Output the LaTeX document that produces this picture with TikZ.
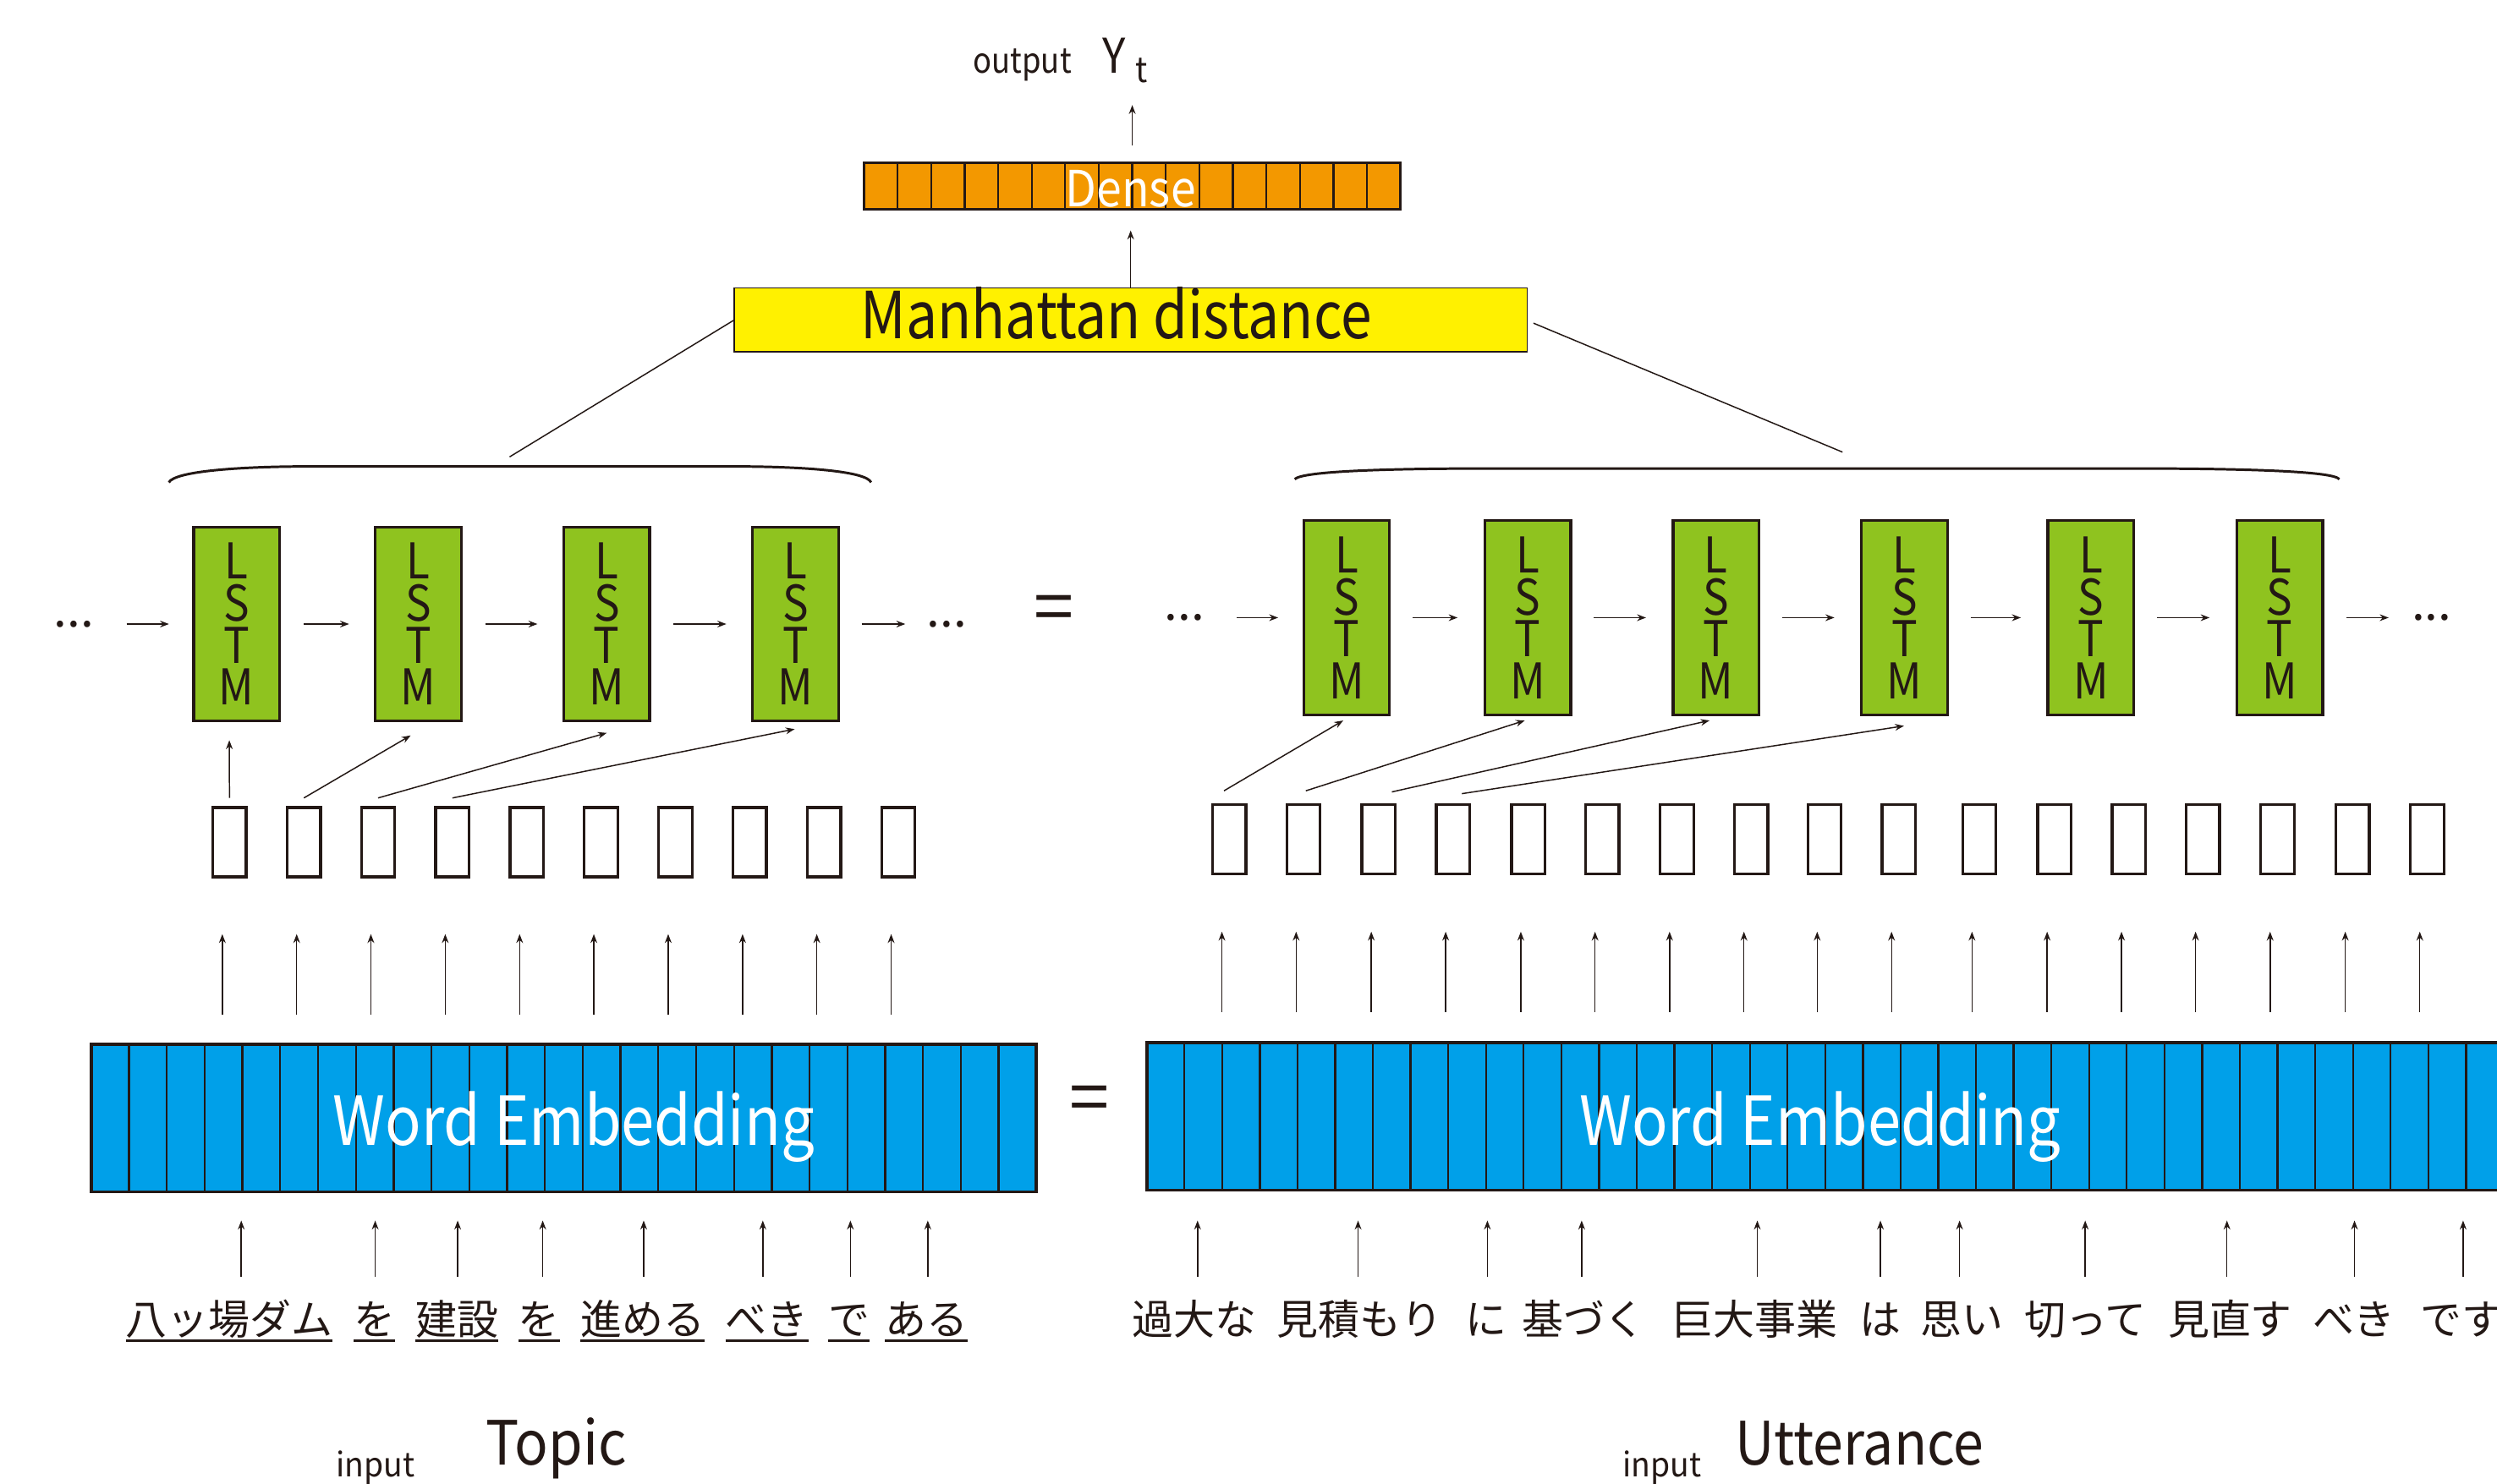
\documentclass[tikz,border=0pt]{standalone}
\usepackage{fontspec}
\setmainfont{Noto Sans CJK JP}
\newfontfamily\nrwA[FakeStretch=0.86]{Noto Sans CJK JP}
\newfontfamily\nrwB[FakeStretch=0.88]{Noto Sans CJK JP}
\newfontfamily\nrwC[FakeStretch=0.91]{Noto Sans CJK JP}
\newfontfamily\nrwD[FakeStretch=0.94]{Noto Sans CJK JP}
\usetikzlibrary{arrows.meta,calc}
\definecolor{ink}{HTML}{231815}
\definecolor{orng}{HTML}{F39800}
\definecolor{yel}{HTML}{FFF100}
\definecolor{grn}{HTML}{8FC31F}
\definecolor{cyanb}{HTML}{00A0E9}
\begin{document}
\begin{tikzpicture}[x=0.02cm,y=-0.02cm,
  every node/.style={inner sep=0pt,outer sep=0pt,text=ink},
  arr/.style={draw=ink,line width=0.45pt,-{Stealth[length=3.2pt,width=2.4pt]}},
  conn/.style={draw=ink,line width=0.45pt},
  lstm/.style={draw=ink,fill=grn,line width=1pt,minimum width=1.08cm,minimum height=2.44cm,align=center,font=\nrwB\fontsize{17.6}{15}\selectfont},
  sbox/.style={draw=ink,fill=white,line width=1pt,minimum width=0.42cm,minimum height=0.87cm},
  jw/.style={font=\fontsize{14.8}{14.8}\selectfont,anchor=base},
  dotsn/.style={font=\fontsize{17.1}{17.1}\selectfont},
  eqn/.style={font=\fontsize{25.6}{25.6}\selectfont},
  brace/.style={draw=ink,line width=0.9pt},
  cell/.style={draw=ink,line width=0.7pt}]
\useasboundingbox (0,0) rectangle (1568,932);

% ---- output
\node[anchor=base,font=\nrwB\fontsize{12.5}{12.5}\selectfont] (out) at (642,46) {output};
\node[anchor=base,font=\nrwC\fontsize{17.1}{17.1}\selectfont] (Y) at (699.5,46) {Y};
\node[anchor=base,font=\nrwC\fontsize{12.5}{12.5}\selectfont] (t) at (717,52) {t};

% ---- Dense
\node[draw=ink,fill=orng,line width=0.9pt,minimum width=6.74cm,minimum height=0.58cm] (dense) at (711,117) {};
\foreach \i in {1,...,15} \draw[cell] ($(dense.north west)+(\i*21.06,0)$) -- ($(dense.south west)+(\i*21.06,0)$);
\node[anchor=base,text=white,font=\nrwC\fontsize{17.8}{17.8}\selectfont] (densetxt) at (710,130) {Dense};
\draw[arr,shorten <=0.226cm,shorten >=0.4cm] (dense.north) -- (dense.north |- Y.south);

% ---- Manhattan
\node[draw=ink,fill=yel,line width=0.4pt,minimum width=9.96cm,minimum height=0.8cm] (mh) at (710,201) {};
\node[anchor=base,font=\nrwA\fontsize{23.2}{23.2}\selectfont] (mhtxt) at (701,212.5) {Manhattan distance};
\draw[arr,shorten >=0.266cm] (mh.north) -- (mh.north |- dense.south);

\coordinate (bL) at (320,287);
\coordinate (bR) at (1157,284);
\draw[conn] (mh.west) -- (bL);
\draw[conn] ($(mh.east)+(4,2)$) -- (bR);

% ---- braces
\draw[brace] (106,303) .. controls (110,296) and (150,293) .. (195,293) -- (460,293) .. controls (505,293) and (544,296) .. (547,303);
\draw[brace] (813,301) .. controls (818,296) and (870,294.3) .. (935,294.3) -- (1340,294.3) .. controls (1410,294.3) and (1465,296) .. (1469,301);

% ---- LSTM left
\foreach \x [count=\i] in {148.6,262.7,381,499.6}
  \node[lstm] (L\i) at (\x,392) {L\\S\\T\\M};
\node[dotsn] (dL0) at (46.5,392) {...};
\node[dotsn] (dL5) at (594.5,392) {...};
\draw[arr,shorten <=0.41cm,shorten >=0.31cm] (dL0) -- (L1);
\draw[arr,shorten <=0.3cm,shorten >=0.33cm] (L1) -- (L2);
\draw[arr,shorten <=0.3cm,shorten >=0.33cm] (L2) -- (L3);
\draw[arr,shorten <=0.3cm,shorten >=0.33cm] (L3) -- (L4);
\draw[arr,shorten <=0.29cm,shorten >=0.27cm] (L4) -- (dL5);

\node[eqn] (eq1) at (662,386) {=};

% ---- LSTM right
\foreach \x [count=\i] in {845.6,959.3,1077.6,1195.9,1313,1431.5}
  \node[lstm] (R\i) at (\x,388) {L\\S\\T\\M};
\node[dotsn] (dR0) at (743.7,388) {...};
\node[dotsn] (dR7) at (1527,388) {...};
\draw[arr,shorten <=0.41cm,shorten >=0.32cm] (dR0) -- (R1);
\foreach \a/\b in {1/2,2/3,3/4,4/5,5/6}
  \draw[arr,shorten <=0.29cm,shorten >=0.34cm] (R\a) -- (R\b);
\draw[arr,shorten <=0.3cm,shorten >=0.29cm] (R6) -- (dR7);

% ---- small boxes
\foreach \x [count=\i] in {144.1,190.8,237.4,284.1,330.8,377.4,424.1,470.8,517.4,564.1}
  \node[sbox] (sL\i) at (\x,529) {};
\foreach \x [count=\i] in {771.9,818.5,865.7,912.4,959.6,1006.2,1053,1099.7,1145.7,1192.4,1242.9,1290.1,1336.8,1383.3,1430.1,1477.3,1524.1}
  \node[sbox] (sR\i) at (\x,527.3) {};

% ---- diagonal inputs
\draw[arr] ($(sL1.north)+(0,-6)$) -- ($(L1.south)+(-4.6,12)$);
\draw[arr] ($(sL2.north)+(0,-6)$) -- ($(L2.south)+(-4.8,9)$);
\draw[arr] ($(sL3.north)+(0,-6)$) -- ($(L3.south)+(0,7.4)$);
\draw[arr] ($(sL4.north)+(0,-6)$) -- ($(L4.south)+(-0.6,5)$);
\draw[arr] ($(sR1.north)+(-3.3,-8.8)$) -- ($(R1.south)+(-2.1,3.6)$);
\draw[arr] ($(sR2.north)+(1.5,-8.8)$) -- ($(R2.south)+(-1.8,3.6)$);
\draw[arr] ($(sR3.north)+(8.3,-8.1)$) -- ($(R3.south)+(-4.1,3.6)$);
\draw[arr] ($(sR4.north)+(5.6,-7)$) -- ($(R4.south)+(-0.3,7)$);

% ---- embeddings
\node[draw=ink,fill=cyanb,line width=1.1pt,minimum width=11.872cm,minimum height=1.854cm] (embL) at (354,702.35) {};
\foreach \i in {1,...,24} \draw[cell] ($(embL.north west)+(\i*23.744,0)$) -- ($(embL.south west)+(\i*23.744,0)$);
\node[draw=ink,fill=cyanb,line width=1.1pt,minimum width=17.4cm,minimum height=1.854cm] (embR) at (1155,701.35) {};
\foreach \i in {1,...,36} \draw[cell] ($(embR.north west)+(\i*23.67,0)$) -- ($(embR.south west)+(\i*23.67,0)$);
\node[anchor=base,text=white,font=\nrwB\fontsize{24.2}{24.2}\selectfont] (weL) at (360.4,719.7) {Word Embedding};
\node[anchor=base,text=white,font=\nrwB\fontsize{24.2}{24.2}\selectfont] (weR) at (1143,719.7) {Word Embedding};
\node[eqn] (eq2) at (684,694) {=};

% ---- embedding -> small boxes
\foreach \i in {1,...,10} \draw[arr] ($(sL\i.south)+(-4.5,86.5)$) -- ($(sL\i.south)+(-4.5,36)$);
\foreach \i in {1,...,17} \draw[arr] ($(sR\i.south)+(-4.6,86.7)$) -- ($(sR\i.south)+(-4.6,36.2)$);

% ---- topic words
\foreach \w/\x/\d [count=\i] in {八ッ場ダム/144/7.5,を/235.1/0.5,建設/287/0.4,を/338.6/2.2,進める/403.5/0.7,べき/481.6/-2.6,で/533.2/0.8,ある/581.8/0.8} {
  \node[jw] (tw\i) at (\x,838.5) {\w};
  \draw[ink,line width=0.8pt] ($(tw\i.base west)+(0,3.5)$) -- ($(tw\i.base east)+(0,3.5)$);
  \draw[arr] ($(tw\i.base)+(\d,-36.5)$) -- ($(tw\i.base)+(\d,-71.8)$);
}
% ---- utterance words
\foreach \w/\x/\d [count=\i] in {過大な/749.8/2.2,見積もり/853.6/-0.8,に/933.4/0.6,基づく/994.6/-1.4,巨大事業/1102/1.5,は/1180.7/0.1,思い/1232.2/-1.7,切って/1309.5/-0.1,見直す/1400.4/-2,べき/1478.2/0.3,です/1545.8/0.9} {
  \node[jw] (uw\i) at (\x,838.5) {\w};
  \draw[arr] ($(uw\i.base)+(\d,-36.5)$) -- ($(uw\i.base)+(\d,-71.8)$);
}

% ---- input labels
\node[anchor=base west,font=\nrwD\fontsize{12}{12}\selectfont] (inT) at (211,927.7) {input};
\node[anchor=base west,font=\nrwC\fontsize{21.8}{21.8}\selectfont] (topic) at (305,920.3) {Topic};
\node[anchor=base west,font=\nrwD\fontsize{12}{12}\selectfont] (inU) at (1019,927.7) {input};
\node[anchor=base west,font=\nrwC\fontsize{21.4}{21.4}\selectfont] (utt) at (1089.5,920.3) {Utterance};
\end{tikzpicture}
\end{document}
